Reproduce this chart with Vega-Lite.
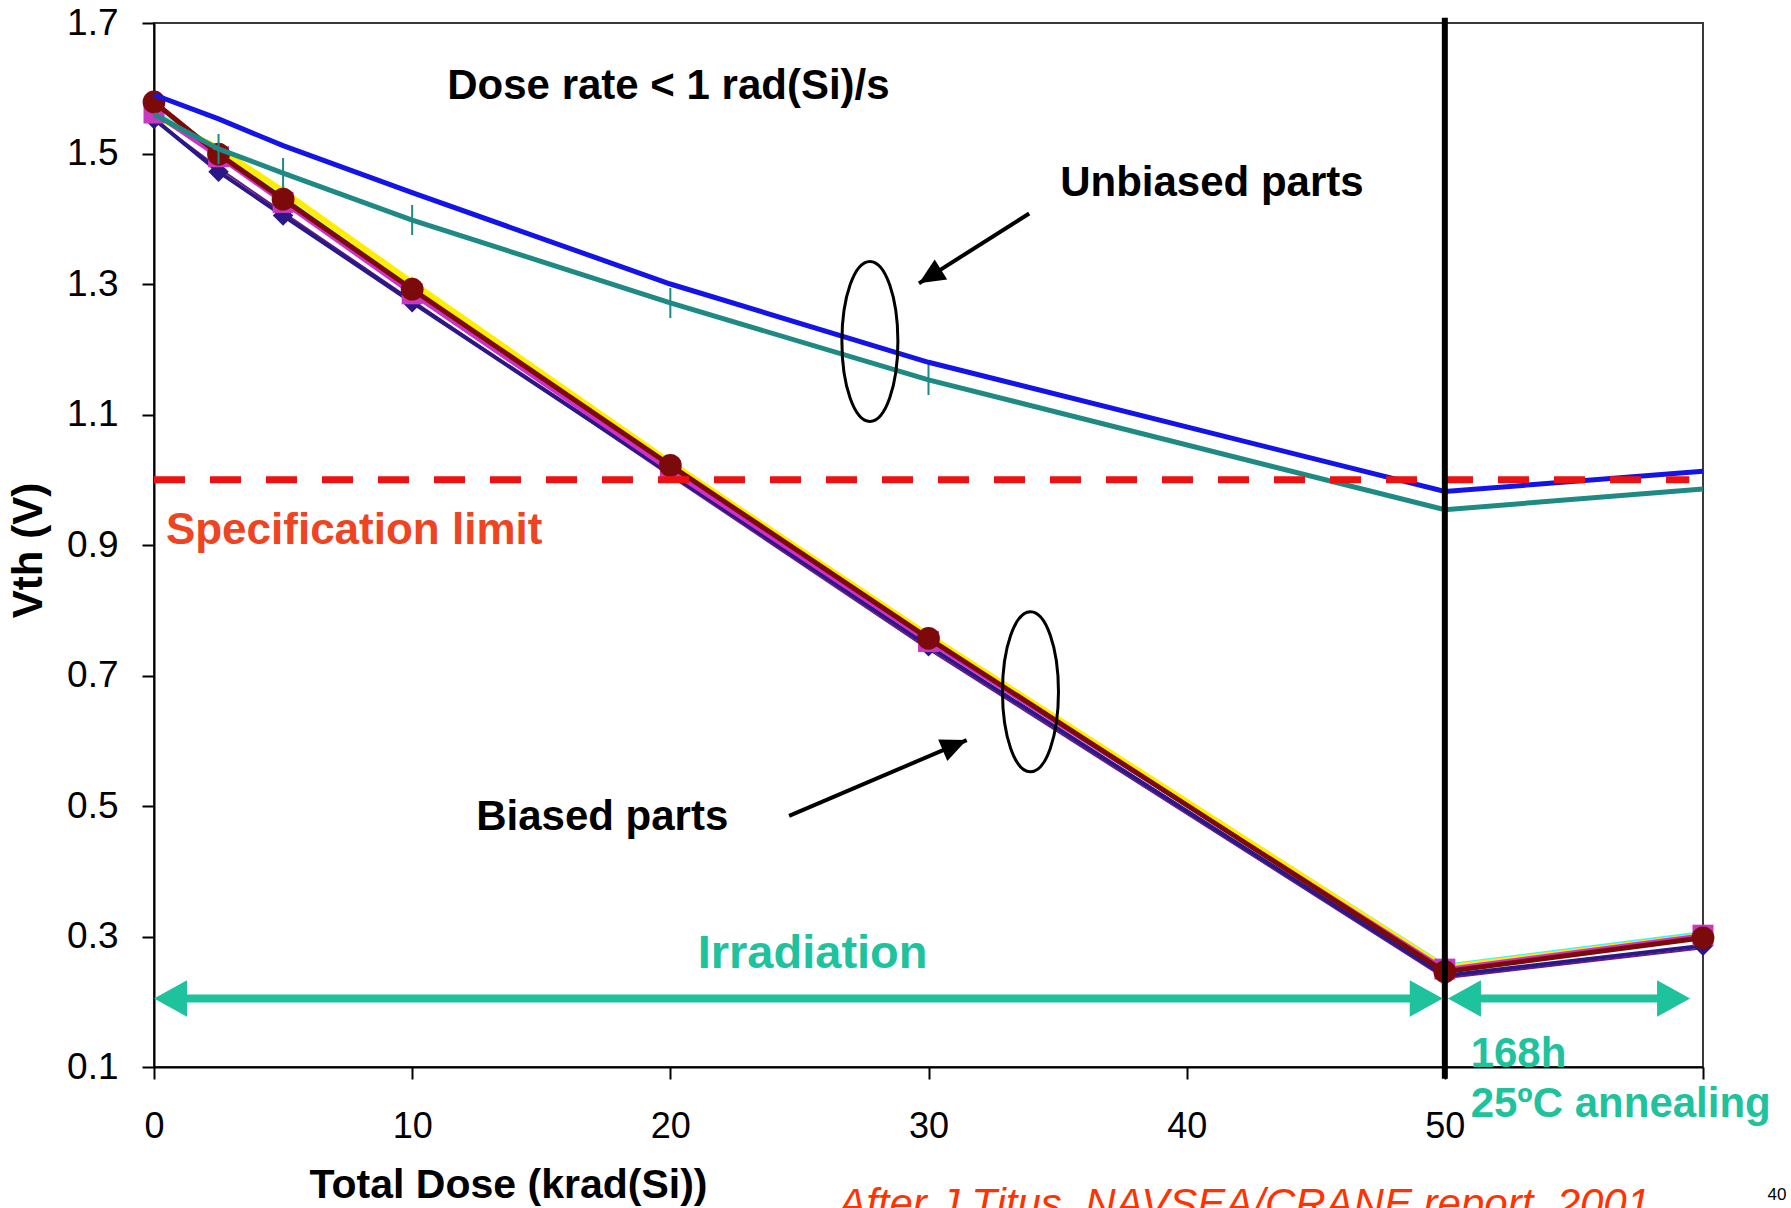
{
  "$schema": "https://vega.github.io/schema/vega-lite/v6.json",
  "width": 1549,
  "height": 1044,
  "autosize": {"type": "none"},
  "padding": {"left": 154, "top": 23, "right": 88, "bottom": 141},
  "background": "#ffffff",
  "config": {
    "view": {"stroke": "#3a3a3a", "strokeWidth": 2},
    "font": "Liberation Sans"
  },
  "datasets": {
    "curves": [
      {"series": "Unbiased A", "dose": 0, "vth": 1.590},
      {"series": "Unbiased A", "dose": 2.5, "vth": 1.553},
      {"series": "Unbiased A", "dose": 5, "vth": 1.512},
      {"series": "Unbiased A", "dose": 10, "vth": 1.440},
      {"series": "Unbiased A", "dose": 20, "vth": 1.300},
      {"series": "Unbiased A", "dose": 30, "vth": 1.180},
      {"series": "Unbiased A", "dose": 50, "vth": 0.982},
      {"series": "Unbiased A", "dose": 60, "vth": 1.013},
      {"series": "Unbiased B", "dose": 0, "vth": 1.560},
      {"series": "Unbiased B", "dose": 2.5, "vth": 1.507},
      {"series": "Unbiased B", "dose": 5, "vth": 1.470},
      {"series": "Unbiased B", "dose": 10, "vth": 1.398},
      {"series": "Unbiased B", "dose": 20, "vth": 1.271},
      {"series": "Unbiased B", "dose": 30, "vth": 1.153},
      {"series": "Unbiased B", "dose": 50, "vth": 0.954},
      {"series": "Unbiased B", "dose": 60, "vth": 0.986},
      {"series": "Biased C", "dose": 0, "vth": 1.566},
      {"series": "Biased C", "dose": 2.5, "vth": 1.503},
      {"series": "Biased C", "dose": 5, "vth": 1.433},
      {"series": "Biased C", "dose": 10, "vth": 1.294},
      {"series": "Biased C", "dose": 20, "vth": 1.024},
      {"series": "Biased C", "dose": 30, "vth": 0.760},
      {"series": "Biased C", "dose": 50, "vth": 0.256},
      {"series": "Biased C", "dose": 60, "vth": 0.306},
      {"series": "Biased Y", "dose": 0, "vth": 1.558},
      {"series": "Biased Y", "dose": 2.5, "vth": 1.508},
      {"series": "Biased Y", "dose": 5, "vth": 1.442},
      {"series": "Biased Y", "dose": 10, "vth": 1.302},
      {"series": "Biased Y", "dose": 20, "vth": 1.026},
      {"series": "Biased Y", "dose": 30, "vth": 0.761},
      {"series": "Biased Y", "dose": 50, "vth": 0.252},
      {"series": "Biased Y", "dose": 60, "vth": 0.301},
      {"series": "Biased P", "dose": 0, "vth": 1.552},
      {"series": "Biased P", "dose": 2.5, "vth": 1.478},
      {"series": "Biased P", "dose": 5, "vth": 1.410},
      {"series": "Biased P", "dose": 10, "vth": 1.275},
      {"series": "Biased P", "dose": 20, "vth": 1.006},
      {"series": "Biased P", "dose": 30, "vth": 0.740},
      {"series": "Biased P", "dose": 50, "vth": 0.236},
      {"series": "Biased P", "dose": 60, "vth": 0.282},
      {"series": "Biased N", "dose": 0, "vth": 1.553},
      {"series": "Biased N", "dose": 2.5, "vth": 1.472},
      {"series": "Biased N", "dose": 5, "vth": 1.405},
      {"series": "Biased N", "dose": 10, "vth": 1.272},
      {"series": "Biased N", "dose": 20, "vth": 1.010},
      {"series": "Biased N", "dose": 30, "vth": 0.745},
      {"series": "Biased N", "dose": 50, "vth": 0.240},
      {"series": "Biased N", "dose": 60, "vth": 0.286},
      {"series": "Biased M", "dose": 0, "vth": 1.562},
      {"series": "Biased M", "dose": 2.5, "vth": 1.495},
      {"series": "Biased M", "dose": 5, "vth": 1.425},
      {"series": "Biased M", "dose": 10, "vth": 1.285},
      {"series": "Biased M", "dose": 20, "vth": 1.014},
      {"series": "Biased M", "dose": 30, "vth": 0.752},
      {"series": "Biased M", "dose": 50, "vth": 0.250},
      {"series": "Biased M", "dose": 60, "vth": 0.302},
      {"series": "Biased R", "dose": 0, "vth": 1.579},
      {"series": "Biased R", "dose": 2.5, "vth": 1.499},
      {"series": "Biased R", "dose": 5, "vth": 1.430},
      {"series": "Biased R", "dose": 10, "vth": 1.292},
      {"series": "Biased R", "dose": 20, "vth": 1.022},
      {"series": "Biased R", "dose": 30, "vth": 0.757},
      {"series": "Biased R", "dose": 50, "vth": 0.246},
      {"series": "Biased R", "dose": 60, "vth": 0.298}
    ],
    "limit": [{"dose": 0, "dose2": 59.47, "vth": 1.0}],
    "boundary": [{"dose": 50, "vth": 1.708, "vth2": 0.082}],
    "spans": [
      {"phase": "irradiation", "dose": 0.6, "dose2": 49.3, "vth": 0.205},
      {"phase": "annealing", "dose": 50.7, "dose2": 58.9, "vth": 0.205}
    ],
    "spanTipsLeft": [
      {"phase": "irradiation", "dose": 0, "vth": 0.205},
      {"phase": "annealing", "dose": 50.12, "vth": 0.205}
    ],
    "spanTipsRight": [
      {"phase": "irradiation", "dose": 49.92, "vth": 0.205},
      {"phase": "annealing", "dose": 59.5, "vth": 0.205}
    ],
    "pointers": [
      {"group": "unbiased", "dose": 33.9, "vth": 1.408, "dose2": 29.63, "vth2": 1.301},
      {"group": "biased", "dose": 24.6, "vth": 0.485, "dose2": 31.48, "vth2": 0.601}
    ],
    "pointerHeads": [
      {"group": "unbiased", "dose": 29.63, "vth": 1.301},
      {"group": "biased", "dose": 31.48, "vth": 0.601}
    ],
    "rings": [
      {"group": "unbiased", "dose": 27.73, "vth": 1.212},
      {"group": "biased", "dose": 33.95, "vth": 0.675}
    ],
    "notesBlack": [
      {"label": "Dose rate < 1 rad(Si)/s", "dose": 11.36, "vth": 1.603},
      {"label": "Unbiased parts", "dose": 35.1, "vth": 1.455},
      {"label": "Biased parts", "dose": 12.48, "vth": 0.483}
    ],
    "notesLimit": [{"label": "Specification limit", "dose": 0.46, "vth": 0.921}],
    "notesPhase": [{"label": "Irradiation", "dose": 21.06, "vth": 0.273}],
    "notesAnneal": [
      {"label": "168h", "dose": 51.0, "vth": 0.1},
      {"label": "25ºC annealing", "dose": 51.0, "vth": 0.0234}
    ],
    "source": [{"label": "After J Titus, NAVSEA/CRANE report, 2001", "dose": 26.5, "vth": -0.131}],
    "page": [{"label": "40", "dose": 62.5, "vth": -0.104}]
  },
  "encoding": {
    "x": {
      "field": "dose",
      "type": "quantitative",
      "scale": {"domain": [0, 60], "nice": false, "zero": false},
      "axis": {
        "title": "Total Dose (krad(Si))",
        "values": [0, 10, 20, 30, 40, 50, 60],
        "labelExpr": "datum.value == 60 ? '' : datum.label",
        "grid": false,
        "domainColor": "#000000",
        "domainWidth": 2,
        "tickColor": "#000000",
        "tickWidth": 2,
        "tickSize": 12,
        "labelFont": "Liberation Sans",
        "labelFontSize": 36,
        "labelColor": "#000000",
        "labelPadding": 30,
        "labelFlush": false,
        "labelOverlap": false,
        "titleFont": "Liberation Sans",
        "titleFontSize": 41,
        "titleFontWeight": "bold",
        "titleColor": "#000000",
        "titleX": 354,
        "titleY": 118,
        "titleAlign": "center",
        "titleBaseline": "middle"
      }
    },
    "y": {
      "field": "vth",
      "type": "quantitative",
      "scale": {"domain": [0.1, 1.7], "nice": false, "zero": false},
      "axis": {
        "title": "Vth (V)",
        "values": [0.1, 0.3, 0.5, 0.7, 0.9, 1.1, 1.3, 1.5, 1.7],
        "format": ".1f",
        "grid": false,
        "domainColor": "#000000",
        "domainWidth": 2,
        "tickColor": "#000000",
        "tickWidth": 2,
        "tickSize": 12,
        "labelFont": "Liberation Sans",
        "labelFontSize": 37,
        "labelColor": "#000000",
        "labelPadding": 24,
        "labelOverlap": false,
        "titleFont": "Liberation Sans",
        "titleFontSize": 42,
        "titleFontWeight": "bold",
        "titleColor": "#000000",
        "titleAngle": 270,
        "titleX": -126,
        "titleY": 527,
        "titleAlign": "center",
        "titleBaseline": "middle"
      }
    }
  },
  "layer": [
    {
      "data": {"name": "curves"},
      "transform": [{"filter": "datum.series == 'Biased C'"}],
      "mark": {"type": "line", "color": "#40f4f4", "strokeWidth": 3}
    },
    {
      "data": {"name": "curves"},
      "transform": [{"filter": "datum.series == 'Biased Y'"}],
      "mark": {"type": "line", "color": "#ffee00", "strokeWidth": 6, "point": {"shape": "triangle-up", "size": 260, "color": "#f0dc00"}}
    },
    {
      "data": {"name": "curves"},
      "transform": [{"filter": "datum.series == 'Biased P'"}],
      "mark": {"type": "line", "color": "#6a1a80", "strokeWidth": 2}
    },
    {
      "data": {"name": "curves"},
      "transform": [{"filter": "datum.series == 'Biased N'"}],
      "mark": {"type": "line", "color": "#2a1888", "strokeWidth": 4, "point": {"shape": "diamond", "size": 420, "color": "#2a1888"}}
    },
    {
      "data": {"name": "curves"},
      "transform": [{"filter": "datum.series == 'Biased M'"}],
      "mark": {"type": "line", "color": "#d030c8", "strokeWidth": 4, "point": {"shape": "square", "size": 440, "color": "#c838c0"}}
    },
    {
      "data": {"name": "curves"},
      "transform": [{"filter": "datum.series == 'Biased R'"}],
      "mark": {"type": "line", "color": "#7d0a0a", "strokeWidth": 5, "point": {"shape": "circle", "size": 520, "color": "#7d0a0a"}}
    },
    {
      "data": {"name": "curves"},
      "transform": [{"filter": "datum.series == 'Unbiased B'"}],
      "mark": {"type": "line", "color": "#1f8a84", "strokeWidth": 5}
    },
    {
      "data": {"name": "curves"},
      "transform": [{"filter": "datum.series == 'Unbiased B' && datum.dose > 0 && datum.dose < 50"}],
      "mark": {"type": "point", "shape": "M0,-1L0,1M-0.35,0L0.35,0", "size": 900, "filled": false, "stroke": "#1f8a84", "strokeWidth": 2, "opacity": 1}
    },
    {
      "data": {"name": "curves"},
      "transform": [{"filter": "datum.series == 'Unbiased A'"}],
      "mark": {"type": "line", "color": "#1414e6", "strokeWidth": 5}
    },
    {
      "data": {"name": "limit"},
      "mark": {"type": "rule", "color": "#ee1111", "strokeWidth": 7, "strokeDash": [31, 25]},
      "encoding": {"x2": {"field": "dose2"}}
    },
    {
      "data": {"name": "boundary"},
      "mark": {"type": "rule", "color": "#000000", "strokeWidth": 6},
      "encoding": {"y2": {"field": "vth2"}}
    },
    {
      "data": {"name": "spans"},
      "mark": {"type": "rule", "color": "#1ec29c", "strokeWidth": 8},
      "encoding": {"x2": {"field": "dose2"}}
    },
    {
      "data": {"name": "spanTipsLeft"},
      "mark": {"type": "point", "shape": "M0,0L2,-1.1L2,1.1Z", "size": 1089, "filled": true, "color": "#1ec29c", "opacity": 1}
    },
    {
      "data": {"name": "spanTipsRight"},
      "mark": {"type": "point", "shape": "M0,0L-2,-1.1L-2,1.1Z", "size": 1089, "filled": true, "color": "#1ec29c", "opacity": 1}
    },
    {
      "data": {"name": "rings"},
      "mark": {"type": "point", "shape": "M0.35,0C0.35,0.5523 0.1933,1 0,1C-0.1933,1 -0.35,0.5523 -0.35,0C-0.35,-0.5523 -0.1933,-1 0,-1C0.1933,-1 0.35,-0.5523 0.35,0Z", "size": 25600, "filled": false, "stroke": "#000000", "strokeWidth": 3, "opacity": 1}
    },
    {
      "data": {"name": "pointers"},
      "mark": {"type": "rule", "color": "#000000", "strokeWidth": 4},
      "encoding": {"x2": {"field": "dose2"}, "y2": {"field": "vth2"}}
    },
    {
      "data": {"name": "pointerHeads"},
      "transform": [{"filter": "datum.group == 'unbiased'"}],
      "mark": {"type": "point", "shape": "M0,0L-2,-0.9L-2,0.9Z", "size": 676, "angle": 147.8, "filled": true, "color": "#000000", "opacity": 1}
    },
    {
      "data": {"name": "pointerHeads"},
      "transform": [{"filter": "datum.group == 'biased'"}],
      "mark": {"type": "point", "shape": "M0,0L-2,-0.9L-2,0.9Z", "size": 676, "angle": 337.1, "filled": true, "color": "#000000", "opacity": 1}
    },
    {
      "data": {"name": "notesBlack"},
      "mark": {"type": "text", "align": "left", "baseline": "middle", "font": "Liberation Sans", "fontSize": 42, "fontWeight": "bold", "color": "#000000"},
      "encoding": {"text": {"field": "label"}}
    },
    {
      "data": {"name": "notesLimit"},
      "mark": {"type": "text", "align": "left", "baseline": "middle", "font": "Liberation Sans", "fontSize": 44, "fontWeight": "bold", "color": "#ee4422"},
      "encoding": {"text": {"field": "label"}}
    },
    {
      "data": {"name": "notesPhase"},
      "mark": {"type": "text", "align": "left", "baseline": "middle", "font": "Liberation Sans", "fontSize": 47, "fontWeight": "bold", "color": "#1ec29c"},
      "encoding": {"text": {"field": "label"}}
    },
    {
      "data": {"name": "notesAnneal"},
      "mark": {"type": "text", "align": "left", "baseline": "alphabetic", "font": "Liberation Sans", "fontSize": 42, "fontWeight": "bold", "color": "#1ec29c"},
      "encoding": {"text": {"field": "label"}}
    },
    {
      "data": {"name": "source"},
      "mark": {"type": "text", "align": "left", "baseline": "alphabetic", "font": "Liberation Sans", "fontSize": 42, "fontStyle": "italic", "color": "#ff3300"},
      "encoding": {"text": {"field": "label"}}
    },
    {
      "data": {"name": "page"},
      "mark": {"type": "text", "align": "left", "baseline": "alphabetic", "font": "Liberation Sans", "fontSize": 17, "color": "#000000"},
      "encoding": {"text": {"field": "label"}}
    }
  ]
}
